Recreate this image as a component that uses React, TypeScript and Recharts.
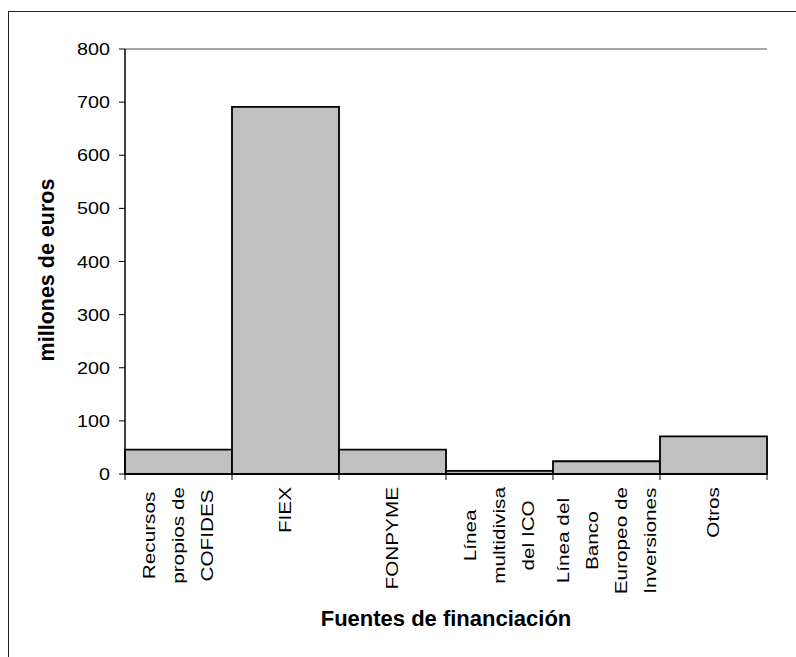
import React from 'react';
import { BarChart, Bar, XAxis, YAxis, CartesianGrid } from 'recharts';

const categories = [
  'Recursos propios de COFIDES',
  'FIEX',
  'FONPYME',
  'Línea multidivisa del ICO',
  'Línea del Banco Europeo de Inversiones',
  'Otros',
];
const tickLines = [
  ['Recursos', 'propios de', 'COFIDES'],
  ['FIEX'],
  ['FONPYME'],
  ['Línea', 'multidivisa', 'del ICO'],
  ['Línea del', 'Banco', 'Europeo de', 'Inversiones'],
  ['Otros'],
];
const amounts = [46, 691, 46, 6, 24, 71];
const yTicks = [0, 100, 200, 300, 400, 500, 600, 700, 800];

const data = categories.map((name, i) => ({ name, value: amounts[i] }));

const FONT = "'Liberation Sans', Arial, sans-serif";
const STRETCH = 1.22;
const PLOT_W = 642;
const LINE_GAP = 29;

let ctx: CanvasRenderingContext2D | null = null;
function textWidth(t: string) {
  if (!ctx) ctx = document.createElement('canvas').getContext('2d');
  if (!ctx) return t.length * 9;
  ctx.font = `17px ${FONT}`;
  return ctx.measureText(t).width * STRETCH;
}

const YTick = ({ x, y, payload }: any) => (
  <g transform={`translate(${x},${y}) scale(1.16,1)`}>
    <text x={0} y={0} textAnchor="end" dominantBaseline="central" fontSize={17} fontFamily={FONT} fill="#000">
      {payload.value}
    </text>
  </g>
);

const XTick = ({ x, y, index }: any) => {
  const lines = tickLines[index] || [];
  const bw = PLOT_W / categories.length;
  const maxLen = Math.max(...lines.map(textWidth));
  const cy = y + 13 + maxLen / 2;
  const n = lines.length;
  return (
    <g>
      <line x1={x - bw / 2} x2={x - bw / 2} y1={y} y2={y + 6} stroke="#000" strokeWidth={1} />
      {index === categories.length - 1 && (
        <line x1={x + bw / 2} x2={x + bw / 2} y1={y} y2={y + 6} stroke="#000" strokeWidth={1} />
      )}
      {lines.map((ln, i) => (
        <g key={i} transform={`translate(${x + (i - (n - 1) / 2) * LINE_GAP},${cy}) rotate(-90) scale(${STRETCH},1)`}>
          <text x={0} y={0} textAnchor="middle" dominantBaseline="central" fontSize={17} fontFamily={FONT} fill="#000">
            {ln}
          </text>
        </g>
      ))}
    </g>
  );
};

const YTitle = ({ viewBox }: any) => {
  const cx = viewBox.x + 38;
  const cy = 258;
  return (
    <text x={cx} y={cy} transform={`rotate(-90,${cx},${cy})`} textAnchor="middle" dominantBaseline="central" fontSize={21.5} fontWeight="bold" fontFamily={FONT} fill="#000">
      millones de euros
    </text>
  );
};

const XTitle = ({ viewBox }: any) => (
  <text x={viewBox.x + viewBox.width / 2} y={viewBox.y + 152} textAnchor="middle" fontSize={22} fontWeight="bold" fontFamily={FONT} fill="#000">
    Fuentes de financiación
  </text>
);

export default function App() {
  return (
    <div
      style={{
        position: 'fixed',
        left: 8,
        top: 11,
        width: 787,
        height: 645,
        borderLeft: '1.5px solid #222',
        borderTop: '1.5px solid #222',
        background: '#fff',
      }}
    >
      <BarChart width={787} height={645} data={data} margin={{ top: 37, right: 29, left: 0, bottom: 0 }} barCategoryGap={0}>
        <CartesianGrid vertical={false} stroke="#888" strokeWidth={1.3} />
        <XAxis
          dataKey="name"
          height={183}
          interval={0}
          tickLine={false}
          tickSize={0}
          tickMargin={0}
          axisLine={{ stroke: '#000', strokeWidth: 1.5 }}
          tick={<XTick />}
          label={<XTitle />}
        />
        <YAxis
          yAxisId="left"
          width={116}
          domain={[0, 800]}
          ticks={yTicks}
          interval={0}
          tickSize={6}
          tickMargin={9}
          tickLine={{ stroke: '#000' }}
          axisLine={{ stroke: '#000', strokeWidth: 1.5 }}
          tick={<YTick />}
          label={<YTitle />}
        />
        <YAxis
          yAxisId="right"
          orientation="right"
          width={0}
          domain={[0, 800]}
          tick={false}
          tickLine={false}
          axisLine={{ stroke: '#888', strokeWidth: 1.5 }}
        />
        <Bar yAxisId="left" dataKey="value" fill="#c0c0c0" stroke="#000" strokeWidth={1.8} isAnimationActive={false} />
      </BarChart>
    </div>
  );
}
